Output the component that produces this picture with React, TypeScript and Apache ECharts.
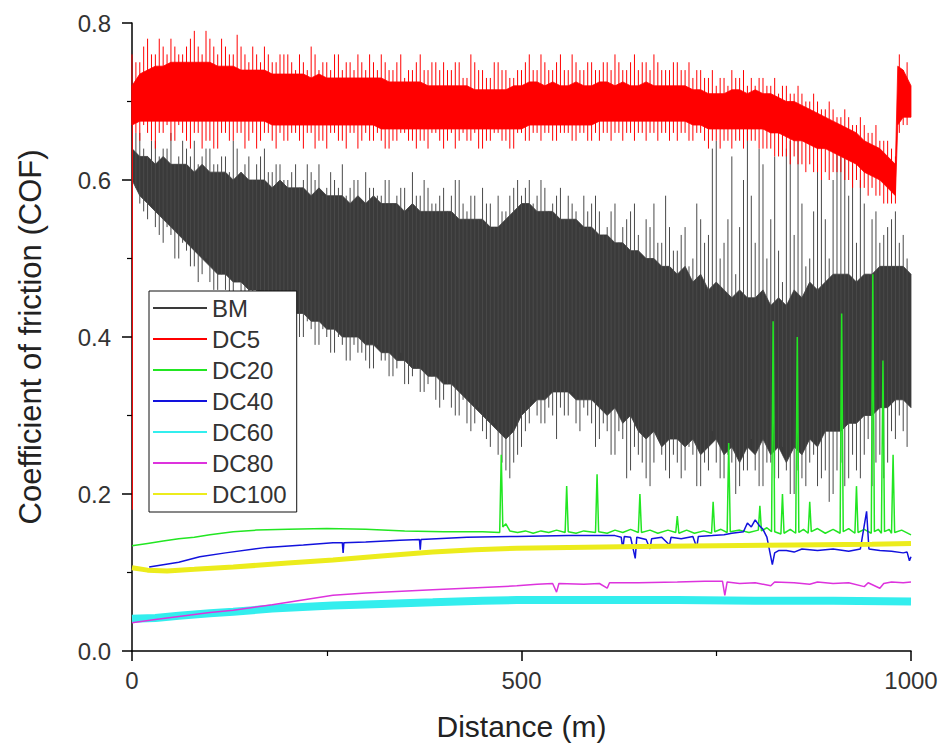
import React, { useEffect, useRef } from "react";
import * as echarts from "echarts";

// ---------- data ----------
const seriesNames = ["BM", "DC5", "DC20", "DC40", "DC60", "DC80", "DC100"];
const seriesColors = ["#3a3a3a", "#ff0000", "#22e622", "#1212dd", "#33eeee", "#dd33dd", "#ecec1c"];
const xTickValues = [0, 500, 1000];
const yTickValues = [0, 0.2, 0.4, 0.6, 0.8];

// BM: solid body edges every 10 m (0..1000)
const bmBodyTop = [
  0.64, 0.63, 0.63, 0.62, 0.63, 0.62, 0.62, 0.62, 0.61, 0.62,
  0.61, 0.61, 0.61, 0.6, 0.61, 0.6, 0.6, 0.6, 0.59, 0.6,
  0.59, 0.59, 0.59, 0.58, 0.59, 0.58, 0.58, 0.58, 0.57, 0.58,
  0.57, 0.58, 0.57, 0.57, 0.57, 0.56, 0.57, 0.56, 0.56, 0.56,
  0.56, 0.56, 0.55, 0.55, 0.55, 0.55, 0.54, 0.54, 0.55, 0.56,
  0.57, 0.57, 0.56, 0.56, 0.56, 0.55, 0.55, 0.55, 0.54, 0.54,
  0.53, 0.53, 0.52, 0.52, 0.51, 0.51, 0.5, 0.5, 0.49, 0.49,
  0.48, 0.49, 0.47, 0.48, 0.46, 0.47, 0.46, 0.45, 0.46, 0.45,
  0.45, 0.46, 0.44, 0.45, 0.44, 0.46, 0.45, 0.47, 0.46, 0.47,
  0.48, 0.48, 0.48, 0.47, 0.48, 0.48, 0.49, 0.49, 0.49, 0.49,
  0.48,
];
const bmBodyBot = [
  0.6, 0.58, 0.57, 0.56, 0.55, 0.54, 0.53, 0.52, 0.51, 0.5,
  0.49, 0.48, 0.48, 0.47, 0.47, 0.46, 0.46, 0.45, 0.45, 0.44,
  0.44, 0.43, 0.43, 0.42, 0.42, 0.41, 0.41, 0.4, 0.4, 0.4,
  0.39, 0.39, 0.38, 0.38, 0.37, 0.37, 0.36, 0.36, 0.35, 0.35,
  0.34, 0.34, 0.33, 0.32, 0.31, 0.3, 0.29, 0.28, 0.27, 0.28,
  0.3, 0.31, 0.32, 0.32, 0.33, 0.33, 0.33, 0.32, 0.32, 0.32,
  0.31, 0.3, 0.31, 0.29, 0.3, 0.28, 0.27, 0.28, 0.26, 0.27,
  0.27, 0.26, 0.27, 0.25, 0.26, 0.27, 0.25, 0.26, 0.24, 0.26,
  0.25, 0.27, 0.25, 0.26, 0.24, 0.26, 0.25, 0.27, 0.26, 0.28,
  0.28, 0.28, 0.29, 0.29, 0.3, 0.3, 0.31, 0.31, 0.32, 0.32,
  0.31,
];
// BM: spikes at 5,15,..,995 m (set A) and 0,10,..,990 m (set B)
const bmHiA = [
  0.66, 0.64, 0.65, 0.63, 0.64, 0.62, 0.65, 0.63, 0.62, 0.64,
  0.62, 0.63, 0.61, 0.64, 0.62, 0.6, 0.63, 0.61, 0.62, 0.6,
  0.61, 0.59, 0.62, 0.6, 0.58, 0.61, 0.59, 0.58, 0.6, 0.57,
  0.59, 0.58, 0.6, 0.57, 0.59, 0.56, 0.58, 0.6, 0.57, 0.58,
  0.56, 0.6, 0.57, 0.58, 0.55, 0.57, 0.54, 0.56, 0.58, 0.6,
  0.59, 0.57, 0.6, 0.56, 0.58, 0.55, 0.57, 0.54, 0.56, 0.58,
  0.53, 0.56, 0.52, 0.55, 0.57, 0.5, 0.54, 0.52, 0.58, 0.51,
  0.53, 0.49, 0.57, 0.52, 0.64, 0.5, 0.55, 0.48, 0.6, 0.58,
  0.64, 0.5, 0.63, 0.47, 0.65, 0.65, 0.49, 0.56, 0.6, 0.5,
  0.66, 0.65, 0.62, 0.6, 0.48, 0.56, 0.53, 0.55, 0.52, 0.5,
];
const bmLoA = [
  0.59, 0.56, 0.57, 0.53, 0.54, 0.5, 0.52, 0.49, 0.47, 0.5,
  0.46, 0.48, 0.44, 0.47, 0.45, 0.43, 0.46, 0.42, 0.44, 0.41,
  0.43, 0.4, 0.42, 0.39, 0.41, 0.38, 0.4, 0.37, 0.39, 0.38,
  0.36, 0.39, 0.37, 0.35, 0.38, 0.34, 0.36, 0.33, 0.35, 0.31,
  0.34, 0.3, 0.32, 0.28, 0.31, 0.27, 0.29, 0.24, 0.22, 0.25,
  0.28, 0.32, 0.29, 0.31, 0.27, 0.3, 0.33, 0.28, 0.3, 0.26,
  0.29, 0.25, 0.28, 0.22, 0.26, 0.24, 0.21, 0.27, 0.23, 0.25,
  0.22, 0.26, 0.21, 0.24, 0.28, 0.22, 0.25, 0.2, 0.23, 0.27,
  0.21, 0.24, 0.22, 0.26, 0.2, 0.23, 0.21, 0.25, 0.22, 0.19,
  0.23, 0.21, 0.25, 0.22, 0.27, 0.24, 0.22, 0.28, 0.3, 0.26,
];
const bmHiB = [
  0.65, 0.66, 0.63, 0.65, 0.64, 0.66, 0.63, 0.64, 0.65, 0.63,
  0.64, 0.62, 0.63, 0.65, 0.61, 0.63, 0.62, 0.64, 0.61, 0.62,
  0.6, 0.62, 0.6, 0.61, 0.62, 0.59, 0.6, 0.62, 0.59, 0.6,
  0.61, 0.59, 0.58, 0.6, 0.58, 0.59, 0.61, 0.58, 0.59, 0.57,
  0.59, 0.58, 0.6, 0.56, 0.58, 0.59, 0.57, 0.58, 0.56, 0.59,
  0.58, 0.6, 0.58, 0.59, 0.57, 0.59, 0.58, 0.56, 0.58, 0.57,
  0.56, 0.54, 0.57, 0.54, 0.56, 0.53, 0.55, 0.57, 0.52, 0.54,
  0.51, 0.54, 0.5, 0.55, 0.53, 0.65, 0.52, 0.63, 0.54, 0.68,
  0.52, 0.62, 0.55, 0.51, 0.64, 0.53, 0.57, 0.5, 0.62, 0.55,
  0.6, 0.63, 0.58, 0.52, 0.57, 0.55, 0.52, 0.54, 0.56, 0.53,
];
const bmLoB = [
  0.58, 0.57, 0.55, 0.54, 0.52, 0.53, 0.5, 0.51, 0.49, 0.48,
  0.47, 0.46, 0.46, 0.44, 0.45, 0.44, 0.43, 0.44, 0.42, 0.43,
  0.41, 0.42, 0.4, 0.41, 0.39, 0.4, 0.38, 0.39, 0.37, 0.38,
  0.37, 0.36, 0.37, 0.35, 0.36, 0.34, 0.35, 0.33, 0.34, 0.32,
  0.32, 0.31, 0.3, 0.29, 0.29, 0.28, 0.26, 0.25, 0.23, 0.24,
  0.26, 0.29, 0.3, 0.29, 0.3, 0.31, 0.3, 0.29, 0.31, 0.29,
  0.27, 0.28, 0.25, 0.27, 0.23, 0.25, 0.22, 0.24, 0.25, 0.22,
  0.24, 0.23, 0.25, 0.21, 0.23, 0.24, 0.22, 0.24, 0.21, 0.23,
  0.23, 0.21, 0.24, 0.22, 0.23, 0.2, 0.22, 0.24, 0.21, 0.23,
  0.2, 0.24, 0.22, 0.23, 0.25, 0.21, 0.25, 0.24, 0.27, 0.28,
];

// DC5: solid body edges every 10 m (0..980), then the jump
const dc5JumpDist = [983, 990, 1000];
const dc5BodyTop = [
  0.72, 0.735, 0.74, 0.745, 0.745, 0.75, 0.75, 0.75, 0.75, 0.75,
  0.75, 0.745, 0.745, 0.745, 0.74, 0.74, 0.74, 0.74, 0.735, 0.735,
  0.735, 0.735, 0.735, 0.73, 0.735, 0.73, 0.73, 0.73, 0.73, 0.73,
  0.73, 0.73, 0.73, 0.725, 0.725, 0.725, 0.725, 0.725, 0.72, 0.72,
  0.72, 0.72, 0.72, 0.72, 0.715, 0.715, 0.715, 0.715, 0.715, 0.72,
  0.72, 0.725, 0.725, 0.72, 0.725, 0.72, 0.72, 0.725, 0.72, 0.72,
  0.725, 0.725, 0.72, 0.725, 0.72, 0.72, 0.725, 0.72, 0.72, 0.72,
  0.72, 0.72, 0.715, 0.715, 0.71, 0.71, 0.71, 0.715, 0.715, 0.71,
  0.715, 0.71, 0.71, 0.705, 0.7, 0.7, 0.695, 0.69, 0.685, 0.68,
  0.675, 0.67, 0.665, 0.66, 0.65, 0.645, 0.64, 0.63, 0.62,
  0.745, 0.74, 0.72,
];
const dc5BodyBot = [
  0.67, 0.675, 0.675, 0.675, 0.675, 0.675, 0.675, 0.675, 0.675, 0.675,
  0.675, 0.675, 0.675, 0.675, 0.675, 0.675, 0.675, 0.675, 0.67, 0.67,
  0.67, 0.67, 0.67, 0.67, 0.67, 0.67, 0.67, 0.67, 0.67, 0.67,
  0.67, 0.67, 0.665, 0.665, 0.665, 0.665, 0.665, 0.665, 0.665, 0.665,
  0.665, 0.665, 0.665, 0.665, 0.665, 0.665, 0.665, 0.665, 0.665, 0.665,
  0.665, 0.67, 0.67, 0.67, 0.67, 0.67, 0.67, 0.67, 0.67, 0.67,
  0.675, 0.675, 0.675, 0.675, 0.675, 0.675, 0.675, 0.675, 0.675, 0.675,
  0.675, 0.675, 0.67, 0.67, 0.665, 0.665, 0.665, 0.665, 0.665, 0.665,
  0.665, 0.665, 0.66, 0.66, 0.655, 0.65, 0.65, 0.645, 0.64, 0.64,
  0.635, 0.63, 0.625, 0.62, 0.61, 0.605, 0.6, 0.59, 0.58,
  0.67, 0.68, 0.68,
];
// DC5: spikes at 5,15,..,995 m (set A) and 0,10,..,990 m (set B)
const dc5HiA = [
  0.75, 0.77, 0.76, 0.78, 0.76, 0.77, 0.76, 0.78, 0.77, 0.79,
  0.77, 0.78, 0.76, 0.785, 0.76, 0.77, 0.75, 0.76, 0.75, 0.76,
  0.75, 0.76, 0.74, 0.76, 0.75, 0.74, 0.76, 0.75, 0.74, 0.75,
  0.76, 0.74, 0.75, 0.74, 0.76, 0.74, 0.75, 0.74, 0.75, 0.74,
  0.74, 0.75, 0.73, 0.76, 0.74, 0.73, 0.75, 0.74, 0.73, 0.74,
  0.75, 0.74, 0.76, 0.74, 0.75, 0.74, 0.76, 0.74, 0.75, 0.74,
  0.75, 0.74, 0.75, 0.74, 0.76, 0.75, 0.74, 0.75, 0.74, 0.75,
  0.74, 0.75, 0.74, 0.73, 0.74, 0.73, 0.72, 0.73, 0.74, 0.73,
  0.73, 0.72, 0.73, 0.72, 0.71, 0.72, 0.7, 0.71, 0.69, 0.7,
  0.68, 0.69, 0.67, 0.68, 0.66, 0.67, 0.65, 0.64, 0.76, 0.75,
];
const dc5LoA = [
  0.66, 0.67, 0.65, 0.66, 0.67, 0.65, 0.66, 0.64, 0.66, 0.65,
  0.64, 0.66, 0.65, 0.66, 0.64, 0.66, 0.65, 0.66, 0.64, 0.65,
  0.66, 0.65, 0.66, 0.64, 0.65, 0.66, 0.65, 0.64, 0.66, 0.65,
  0.65, 0.66, 0.64, 0.65, 0.66, 0.65, 0.64, 0.65, 0.66, 0.65,
  0.65, 0.64, 0.66, 0.65, 0.64, 0.65, 0.66, 0.65, 0.64, 0.66,
  0.65, 0.66, 0.65, 0.66, 0.65, 0.66, 0.65, 0.66, 0.65, 0.66,
  0.66, 0.65, 0.66, 0.66, 0.65, 0.66, 0.66, 0.65, 0.66, 0.66,
  0.66, 0.65, 0.66, 0.65, 0.65, 0.64, 0.65, 0.65, 0.64, 0.65,
  0.64, 0.64, 0.63, 0.63, 0.62, 0.62, 0.61, 0.61, 0.6, 0.6,
  0.61, 0.6, 0.59, 0.59, 0.58, 0.58, 0.57, 0.57, 0.66, 0.67,
];
const dc5HiB = [
  0.76, 0.75, 0.78, 0.76, 0.77, 0.78, 0.76, 0.77, 0.79, 0.76,
  0.78, 0.76, 0.77, 0.76, 0.77, 0.75, 0.76, 0.77, 0.75, 0.76,
  0.76, 0.74, 0.75, 0.77, 0.74, 0.75, 0.76, 0.74, 0.75, 0.76,
  0.74, 0.75, 0.76, 0.74, 0.75, 0.73, 0.74, 0.76, 0.74, 0.75,
  0.75, 0.74, 0.75, 0.73, 0.75, 0.74, 0.73, 0.75, 0.74, 0.73,
  0.74, 0.76, 0.74, 0.75, 0.74, 0.76, 0.74, 0.75, 0.74, 0.75,
  0.74, 0.75, 0.76, 0.74, 0.75, 0.74, 0.75, 0.76, 0.74, 0.74,
  0.75, 0.74, 0.73, 0.74, 0.73, 0.72, 0.73, 0.74, 0.73, 0.72,
  0.72, 0.73, 0.72, 0.71, 0.72, 0.71, 0.71, 0.7, 0.7, 0.69,
  0.69, 0.68, 0.68, 0.67, 0.67, 0.66, 0.65, 0.65, 0.63, 0.74,
];
const dc5LoB = [
  0.67, 0.65, 0.66, 0.64, 0.66, 0.65, 0.67, 0.65, 0.66, 0.64,
  0.65, 0.64, 0.66, 0.65, 0.66, 0.65, 0.64, 0.66, 0.65, 0.66,
  0.65, 0.66, 0.64, 0.66, 0.65, 0.64, 0.66, 0.65, 0.66, 0.64,
  0.66, 0.65, 0.65, 0.64, 0.65, 0.66, 0.65, 0.65, 0.64, 0.66,
  0.64, 0.66, 0.65, 0.65, 0.66, 0.64, 0.65, 0.66, 0.65, 0.64,
  0.66, 0.65, 0.66, 0.66, 0.65, 0.66, 0.66, 0.65, 0.66, 0.65,
  0.65, 0.66, 0.66, 0.65, 0.66, 0.66, 0.65, 0.66, 0.66, 0.65,
  0.65, 0.66, 0.65, 0.66, 0.64, 0.65, 0.65, 0.64, 0.65, 0.65,
  0.65, 0.64, 0.64, 0.63, 0.63, 0.63, 0.62, 0.62, 0.61, 0.61,
  0.61, 0.61, 0.6, 0.6, 0.59, 0.59, 0.58, 0.57, 0.57, 0.67,
];
const dc5StartSpike = [0.5, 0.18, 0.72];

// DC20 .. DC100: [distance, COF]
const dc20 = [
  [0, 0.134], [20, 0.137], [40, 0.14], [60, 0.143], [80, 0.145], [100, 0.148], [130, 0.152],
  [160, 0.154], [200, 0.155], [250, 0.156], [300, 0.155], [350, 0.153], [400, 0.152], [450, 0.152],
  [472, 0.151], [474, 0.25], [476, 0.158], [480, 0.162], [485, 0.153], [495, 0.151], [505, 0.153],
  [515, 0.15], [525, 0.153], [535, 0.151], [545, 0.154], [556, 0.151], [558, 0.21], [560, 0.152],
  [570, 0.15], [580, 0.153], [595, 0.151], [597, 0.225], [599, 0.152], [610, 0.15], [620, 0.154],
  [630, 0.151], [640, 0.155], [650, 0.151], [652, 0.2], [654, 0.151], [665, 0.154], [675, 0.15],
  [688, 0.154], [698, 0.151], [700, 0.172], [702, 0.15], [712, 0.154], [722, 0.15], [734, 0.153],
  [744, 0.15], [746, 0.19], [748, 0.152], [756, 0.155], [764, 0.151], [766, 0.265], [768, 0.152],
  [780, 0.154], [792, 0.151], [804, 0.154], [806, 0.185], [808, 0.153], [815, 0.157], [821, 0.152],
  [823, 0.42], [825, 0.152], [833, 0.149], [835, 0.2], [837, 0.15], [845, 0.155], [852, 0.15],
  [854, 0.4], [856, 0.151], [862, 0.155], [868, 0.15], [870, 0.19], [872, 0.152], [880, 0.156],
  [890, 0.15], [900, 0.155], [909, 0.15], [911, 0.43], [913, 0.152], [920, 0.156], [928, 0.15],
  [930, 0.21], [932, 0.151], [940, 0.155], [949, 0.15], [951, 0.48], [953, 0.152], [958, 0.155],
  [962, 0.15], [964, 0.37], [966, 0.152], [972, 0.155], [975, 0.15], [977, 0.25], [979, 0.151],
  [988, 0.154], [1000, 0.148],
];
const dc40 = [
  [22, 0.107], [40, 0.11], [60, 0.113], [87, 0.12], [120, 0.125], [173, 0.132], [220, 0.135],
  [258, 0.138], [270, 0.138], [271, 0.125], [272, 0.138], [300, 0.139], [344, 0.141], [369, 0.142],
  [370, 0.129], [371, 0.142], [430, 0.145], [494, 0.146], [560, 0.147], [620, 0.147], [628, 0.145],
  [630, 0.13], [632, 0.146], [640, 0.145], [646, 0.118], [648, 0.145], [660, 0.142], [665, 0.13],
  [667, 0.143], [680, 0.145], [690, 0.135], [692, 0.145], [705, 0.143], [720, 0.146], [725, 0.132],
  [727, 0.146], [745, 0.147], [760, 0.148], [770, 0.15], [785, 0.152], [790, 0.163], [795, 0.158],
  [800, 0.167], [805, 0.16], [810, 0.155], [815, 0.145], [818, 0.13], [822, 0.11], [825, 0.125],
  [830, 0.128], [840, 0.128], [850, 0.126], [860, 0.13], [880, 0.128], [900, 0.13], [920, 0.127],
  [935, 0.13], [940, 0.16], [943, 0.178], [946, 0.13], [960, 0.128], [975, 0.127], [990, 0.125],
  [995, 0.126], [998, 0.115], [1000, 0.12],
];
const dc60 = [
  [0, 0.041], [30, 0.042], [60, 0.045], [100, 0.048], [130, 0.05], [180, 0.054], [258, 0.058],
  [320, 0.06], [386, 0.062], [450, 0.064], [494, 0.065], [600, 0.065], [700, 0.065], [800, 0.064],
  [900, 0.064], [1000, 0.063],
];
const dc80 = [
  [0, 0.036], [30, 0.04], [60, 0.044], [100, 0.049], [130, 0.052], [180, 0.059], [258, 0.071],
  [300, 0.074], [386, 0.078], [450, 0.081], [494, 0.083], [520, 0.085], [540, 0.086], [545, 0.075],
  [548, 0.086], [580, 0.085], [600, 0.086], [610, 0.08], [613, 0.087], [650, 0.087], [700, 0.088],
  [735, 0.089], [758, 0.089], [761, 0.071], [764, 0.088], [780, 0.086], [800, 0.087], [820, 0.083],
  [825, 0.088], [850, 0.087], [870, 0.085], [880, 0.088], [900, 0.086], [920, 0.087], [940, 0.082],
  [945, 0.087], [960, 0.08], [965, 0.086], [975, 0.088], [990, 0.087], [1000, 0.088],
];
const dc100 = [
  [0, 0.106], [20, 0.103], [45, 0.102], [80, 0.104], [130, 0.107], [200, 0.112], [258, 0.116],
  [320, 0.121], [386, 0.126], [440, 0.129], [494, 0.131], [560, 0.132], [650, 0.133], [750, 0.134],
  [850, 0.135], [950, 0.136], [1000, 0.137],
];

// ---------- helpers ----------
const BODY_STEP = 10;
const SPIKE_STEP = 10;
const bmBodyDist = bmBodyTop.map((_, i) => i * BODY_STEP);
const dc5BodyDist = [
  ...dc5BodyTop.slice(0, dc5BodyTop.length - dc5JumpDist.length).map((_, i) => i * BODY_STEP),
  ...dc5JumpDist,
];

function spikeItems(hi: number[], lo: number[], offset: number) {
  return hi.map((h, i) => [i * SPIKE_STEP + offset, lo[i], h]);
}

function band(name: string, dist: number[], top: number[], bot: number[], color: string, z: number) {
  return {
    type: "custom",
    name,
    z,
    silent: true,
    data: [[dist[0], top[0]]],
    itemStyle: { color },
    renderItem: (_params: any, api: any) => {
      const pts: number[][] = [];
      for (let i = 0; i < dist.length; i++) pts.push(api.coord([dist[i], top[i]]));
      for (let i = dist.length - 1; i >= 0; i--) pts.push(api.coord([dist[i], bot[i]]));
      return { type: "polygon", shape: { points: pts }, style: { fill: color, stroke: color, lineWidth: 0.8 } };
    },
  };
}

function spikes(name: string, items: number[][], color: string, z: number) {
  return {
    type: "custom",
    name,
    z,
    silent: true,
    data: items,
    encode: { x: 0, y: [1, 2] },
    itemStyle: { color },
    renderItem: (_params: any, api: any) => {
      const a = api.coord([api.value(0), api.value(1)]);
      const b = api.coord([api.value(0), api.value(2)]);
      return {
        type: "line",
        shape: { x1: a[0], y1: a[1], x2: b[0], y2: b[1] },
        style: { stroke: color, lineWidth: 1 },
      };
    },
  };
}

function line(name: string, data: number[][], color: string, width: number, z: number) {
  return {
    type: "line",
    name,
    data,
    z,
    symbol: "none",
    showSymbol: false,
    silent: true,
    itemStyle: { color },
    lineStyle: { color, width },
  };
}

const FONT = "'Liberation Sans', Arial, sans-serif";

export default function App() {
  const ref = useRef<HTMLDivElement>(null);
  useEffect(() => {
    if (!ref.current) return;
    const chart = echarts.init(ref.current, undefined, { renderer: "svg" });
    const [cBM, cDC5, cDC20, cDC40, cDC60, cDC80, cDC100] = seriesColors;
    const axisCommon = {
      type: "value",
      nameLocation: "middle",
      splitLine: { show: false },
      axisLine: { show: true, onZero: false, lineStyle: { color: "#000", width: 1.5 } },
      axisTick: { show: true, inside: false, length: 10, lineStyle: { color: "#000", width: 1.5 } },
      minorTick: { show: true, splitNumber: 2, length: 5, lineStyle: { color: "#000", width: 1.2 } },
      minorSplitLine: { show: false },
    };
    chart.setOption({
      animation: false,
      backgroundColor: "#fff",
      textStyle: { fontFamily: FONT },
      grid: { left: 132, right: 32, top: 23, bottom: 98, containLabel: false, outerBoundsMode: "none" },
      legend: {
        orient: "vertical",
        left: 149,
        top: 291,
        data: seriesNames.map((n) => ({ name: n, icon: "rect" })),
        itemWidth: 54,
        itemHeight: 2,
        itemGap: 7,
        padding: [5, 10, 6, 4],
        borderColor: "#111",
        borderWidth: 1,
        borderRadius: 0,
        backgroundColor: "#fff",
        selectedMode: false,
        textStyle: { fontSize: 24, color: "#333", fontFamily: FONT, lineHeight: 24 },
      },
      xAxis: {
        ...axisCommon,
        min: xTickValues[0],
        max: xTickValues[xTickValues.length - 1],
        interval: xTickValues[1] - xTickValues[0],
        name: "Distance (m)",
        nameGap: 60,
        nameTextStyle: { fontSize: 30, color: "#222", fontFamily: FONT },
        axisLabel: { fontSize: 24, color: "#333", margin: 17, fontFamily: FONT, formatter: (v: number) => String(v) },
      },
      yAxis: {
        ...axisCommon,
        min: yTickValues[0],
        max: yTickValues[yTickValues.length - 1],
        interval: yTickValues[1] - yTickValues[0],
        name: "Coefficient of friction (COF)",
        nameGap: 86,
        nameTextStyle: { fontSize: 31, color: "#222", fontFamily: FONT },
        axisLabel: {
          fontSize: 24,
          color: "#333",
          margin: 21,
          fontFamily: FONT,
          formatter: (v: number) => v.toFixed(1),
        },
      },
      series: [
        line("BM", [], cBM, 1, 1),
        band("BM", bmBodyDist, bmBodyTop, bmBodyBot, cBM, 1),
        spikes("BM", [...spikeItems(bmHiA, bmLoA, SPIKE_STEP / 2), ...spikeItems(bmHiB, bmLoB, 0)], "#4a4a4a", 1),
        line("DC5", [], cDC5, 1, 2),
        band("DC5", dc5BodyDist, dc5BodyTop, dc5BodyBot, cDC5, 2),
        spikes(
          "DC5",
          [dc5StartSpike, ...spikeItems(dc5HiA, dc5LoA, SPIKE_STEP / 2), ...spikeItems(dc5HiB, dc5LoB, 0)],
          cDC5,
          2
        ),
        line("DC20", dc20, cDC20, 1.5, 3),
        line("DC40", dc40, cDC40, 1.5, 4),
        line("DC60", dc60, cDC60, 8, 5),
        line("DC80", dc80, cDC80, 1.5, 6),
        line("DC100", dc100, cDC100, 5, 7),
      ],
    });
    return () => chart.dispose();
  }, []);
  return (
    <div
      ref={ref}
      style={{ position: "fixed", left: 0, top: 0, width: 943, height: 749, background: "#fff" }}
    />
  );
}
